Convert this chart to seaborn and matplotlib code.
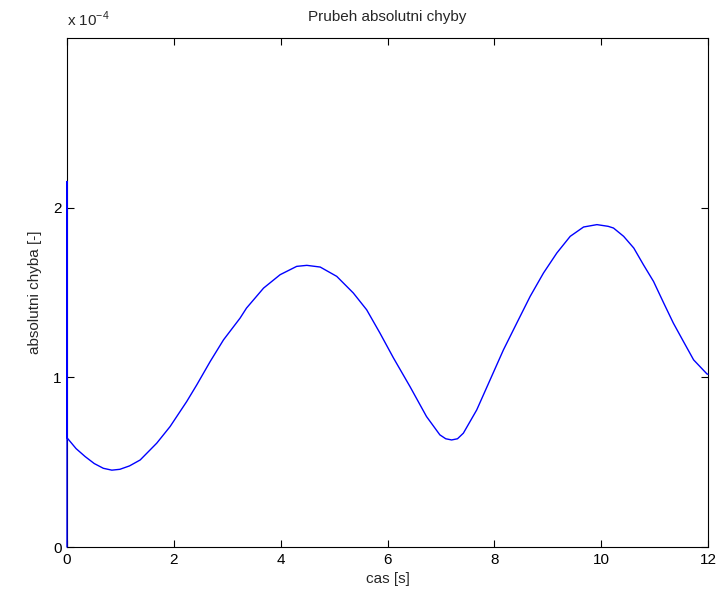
import matplotlib
matplotlib.use("Agg")
import matplotlib.pyplot as plt
import seaborn as sns
import pandas as pd

# time [s] and absolute error (in units of 1e-4)
cas = [0.0, 0.001, 0.003, 0.17, 0.34, 0.51, 0.68, 0.84, 0.99, 1.17, 1.37, 1.68,
       1.93, 2.24, 2.43, 2.68, 2.93, 3.24, 3.36, 3.68, 3.99, 4.30, 4.49, 4.74,
       5.05, 5.36, 5.61, 5.86, 6.11, 6.42, 6.73, 6.98, 7.09, 7.20, 7.31, 7.42,
       7.67, 7.92, 8.17, 8.42, 8.67, 8.92, 9.17, 9.42, 9.67, 9.92, 10.13,
       10.23, 10.42, 10.61, 10.79, 10.98, 11.17, 11.35, 11.54, 11.73, 11.98,
       12.0]
chyba = [0.0, 2.155, 0.643, 0.58, 0.533, 0.492, 0.464, 0.453, 0.458, 0.478,
         0.513, 0.612, 0.71, 0.857, 0.956, 1.093, 1.221, 1.349, 1.408, 1.526,
         1.605, 1.654, 1.66, 1.65, 1.595, 1.497, 1.398, 1.26, 1.115, 0.946,
         0.769, 0.661, 0.638, 0.631, 0.638, 0.671, 0.808, 0.985, 1.162, 1.32,
         1.477, 1.615, 1.733, 1.831, 1.886, 1.90, 1.89, 1.88, 1.831, 1.762,
         1.664, 1.565, 1.438, 1.32, 1.211, 1.103, 1.02, 1.018]
scale = 1e-4

x_ticks = [0, 2, 4, 6, 8, 10, 12]
y_ticks = [0, 1, 2]

df = pd.DataFrame({"cas": cas, "chyba": [v * scale for v in chyba]})

sns.set_style("ticks")
plt.rcParams['font.family'] = ['Liberation Sans', 'DejaVu Sans']
plt.rcParams['xtick.direction'] = 'in'
plt.rcParams['ytick.direction'] = 'in'

fig = plt.figure(figsize=(7.25, 6), dpi=100)
ax = fig.add_axes([0.0924, 0.0883, 0.8842, 0.8484])

sns.lineplot(data=df, x="cas", y="chyba", color="#0000ff", linewidth=1.0,
             sort=False, ax=ax)
for line in ax.lines:
    line.set_clip_on(False)
    line.set_zorder(5)

ax.set_xlim(0, 12)
ax.set_ylim(0, 3 * scale)
ax.set_xticks(x_ticks)
ax.set_xticklabels([str(t) for t in x_ticks])
ax.set_yticks([t * scale for t in y_ticks])
ax.set_yticklabels([str(t) for t in y_ticks])
ax.tick_params(axis='both', which='both', direction='in', length=5, width=0.8,
               top=True, right=True, labelsize=11, colors='black', pad=4)
for s in ax.spines.values():
    s.set_visible(True)
    s.set_color('black')
    s.set_linewidth(0.8)

ax.set_title("Prubeh absolutni chyby", fontsize=11, pad=12)
ax.set_xlabel("cas [s]", fontsize=11, labelpad=4)
ax.set_ylabel("absolutni chyba [-]", fontsize=11, labelpad=8)
ax.text(0.0, 1.018, r"x 10$^{\mathregular{-4}}$", transform=ax.transAxes,
        fontsize=11, ha='left', va='bottom')

fig.savefig("out.png", dpi=100, facecolor="white")
